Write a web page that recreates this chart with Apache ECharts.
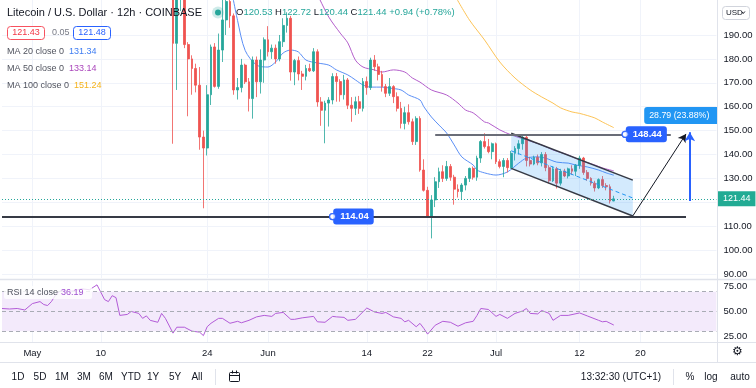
<!DOCTYPE html>
<html>
<head>
<meta charset="utf-8">
<script src="https://cdn.jsdelivr.net/npm/echarts@6/dist/echarts.min.js"></script>
<style>
html,body{margin:0;padding:0;background:#ffffff;}
#chart{width:756px;height:388px;}
</style>
</head>
<body>
<div id="chart"></div>
<script>
// ---------------- data ----------------
// 12h bars starting 27 Apr 2021 00:00 UTC
const firstBarUTC = Date.UTC(2021, 3, 27, 0);
const barCount = 189;

const tickDates  = ['05-01 00','05-10 00','05-24 00','06-01 00','06-14 00','06-22 00','07-01 00','07-12 00','07-20 00'];
const tickLabels = ['May','10','24','Jun','14','22','Jul','12','20'];
const priceTicks = [90,100,110,120,130,140,150,160,170,180,190];
const rsiTicks   = [25,50,75];

const firstCandle = '05-19 12';
// [open, high, low, close]
const candles = [
[212,222,144.5,186.5],[186.5,212,167,206],[206,224,200,218],[218,220,184.5,186],[186,187,156,180],
[180,181.5,165,176],[176,178,166,169],[169,176.6,142,147.3],[147.3,150,117.5,142.7],[142.7,169,139.6,165],
[165,186,160.7,185],[185,186.6,168,168.5],[168.5,190.6,167.5,183.7],[183.7,206,178.7,196.3],[196.3,210,190,204],
[204,208,193,198],[198,199,165,167],[167,172,163,168],[168,180,166,177.4],[177.4,178,169.5,170.4],
[170.4,172,158,163.4],[163.4,181,155,179.5],[179.5,181,164,170.4],[170.4,184,165.5,179.5],[179.5,189,170,188],
[188,193.7,181,183],[183,186,180,184.5],[184.5,186,178,180],[180,190,179,187.2],[187.2,197,185,194],
[194,199.5,191,197],[197,198,170.9,174.5],[174.5,180,169,179.3],[179.3,181,171,173.7],[173.7,175,167,172.7],
[172.7,177.5,171,176],[176,178,174.5,175],[175,184.5,174.5,183],[183,184,160,162],[162,164,152,158.5],
[158.5,162.5,144.7,161.5],[161.5,164,151.7,162.8],[162.8,174,161,172.6],[172.6,174.1,162.1,170.5],[170.5,171.5,162.1,165],
[165,173.3,163,171.2],[171.2,172,159,160.6],[160.6,164,153.7,159.3],[159.3,164.2,156.5,162.1],[162.1,164.5,157,159.3],
[159.3,172,158,170.5],[170.5,172.6,165,168],[168,180.5,167,179.5],[179.5,181.6,175,176.7],[176.7,178,171,173.5],
[173.5,175,166.3,168.4],[168.4,169.5,164,165.6],[165.6,172,164.5,168.4],[168.4,169,161.5,164.2],[164.2,166,158,159.3],
[159.3,162,150.9,153],[153,160,150.5,157.5],[157.5,161,152.5,153.7],[153.7,155,144,145.4],[145.4,156,144,155.1],
[155.1,156,132.8,133.5],[133.5,138,124.5,125],[125,126.5,113.8,114.2],[114.2,123,104.9,121],[121,130.5,118,128.6],
[128.6,134.5,126,132.8],[132.8,135.5,128.5,130],[130,137.3,129,135],[135,136,129,130.5],[130.5,131.5,119,125.5],
[125.5,127.5,122,124.5],[124.5,128,121,127.2],[127.2,131,125,130],[130,134.5,128.5,134.2],[134.2,135,129.5,130.5],
[130.5,139.5,129,138.5],[138.5,146,136.5,145.4],[145.4,148.9,142.5,143.3],[143.3,146.5,140.5,141.2],[141.2,145,138,144.5],
[144.5,145,136,137],[137,138,134.2,135],[135,138.5,130.5,137.5],[137.5,138.5,132.5,134.5],[134.5,141.5,134,140.5],
[140.5,143.5,137.5,142.5],[142.5,146,140,144.5],[144.5,148.5,142,147.2],[147.2,148,135,137.5],[137.5,139,135,136],
[136,139.5,135.5,138.8],[138.8,140,135.5,136.5],[136.5,141,135,140],[140,141,133,134.5],[134.5,135.5,127.9,129],
[129,135,128.5,134],[134,134.8,125.8,128],[128,134,127,133],[133,134,130.5,131],[131,134.5,130,134],
[134,135.5,131.5,133],[133,136,131,135.5],[135.5,139.5,134,138.5],[138.5,139,131.5,132.5],[132.5,133.5,129,130],
[130,130.5,127,128],[128,129,124.5,126],[126,130,125.5,129.5],[129.5,131,126,127],[127,128,125,126.5],
[126.5,127.5,119.5,120.5],[120.53,122.72,120.44,121.44]
];

const ma20 = [['05-27 00',212],['05-28 00',196],['05-29 00',183.5],['05-30 12',177.4],['06-01 00',176.6],['06-02 00',178.7],
['06-03 00',182.5],['06-04 00',183.7],['06-05 00',182.9],['06-06 00',179.5],['06-07 12',178.3],['06-09 00',177.4],
['06-10 00',175.4],['06-11 12',173.3],['06-12 12',171.2],['06-13 12',169.1],['06-14 12',168.2],['06-16 00',168.2],
['06-17 00',167.8],['06-18 12',167],['06-19 12',164.9],['06-21 00',162.8],['06-21 12',160],['06-22 12',155.7],
['06-23 12',152.3],['06-24 12',149],['06-25 12',144],['06-26 12',139],['06-28 00',135.6],['06-28 12',133.5],
['06-29 12',132.3],['07-01 00',131.4],['07-02 12',132.7],['07-04 00',136.4],['07-05 00',138.5],['07-06 12',139],
['07-07 12',138.5],['07-09 00',136.8],['07-10 12',136.4],['07-11 12',135.6],['07-13 00',134.8],['07-14 12',133.5],
['07-15 12',132.3],['07-16 12',131.34]];

const ma50 = [['06-07 12',207],['06-09 00',197.5],['06-10 12',190.8],['06-11 12',186.7],['06-12 12',179.5],['06-13 12',176.6],
['06-15 00',175.4],['06-16 00',174.5],['06-17 12',175.4],['06-19 00',174.5],['06-20 00',172],['06-21 00',170.3],
['06-22 12',167],['06-24 12',164.9],['06-26 00',161.5],['06-27 00',158.6],['06-28 00',157.4],['06-29 12',153.6],
['06-30 00',153.2],['07-01 12',150.3],['07-03 00',148.2],['07-05 00',146.1],['07-07 00',144],['07-08 12',141.9],
['07-10 12',139.8],['07-12 00',137.7],['07-14 00',135.6],['07-15 00',134.4],['07-16 12',133.14]];

const ma100 = [['06-25 12',207],['06-27 12',196.3],['06-29 12',187.9],['07-01 12',178.7],['07-03 12',172],['07-05 12',167],
['07-07 00',164.1],['07-08 12',161.5],['07-09 12',159.5],['07-11 00',157.8],['07-12 00',157.2],['07-14 00',155.3],
['07-15 00',153.6],['07-16 12',151.24]];

const rsi14 = [['04-27 00',53],['04-28 00',52.5],['04-29 00',53],['04-30 00',51.5],['05-01 00',58],['05-02 00',60],
['05-02 12',57],['05-03 00',56],['05-03 12',60],['05-04 00',66],['05-04 12',70],['05-05 00',72],['05-05 12',70],
['05-06 12',71],['05-07 12',73],['05-08 12',72],['05-09 12',77],['05-10 12',62],['05-11 00',60],['05-11 12',66],
['05-12 00',64],['05-12 12',46],['05-13 12',47],['05-14 00',50],['05-15 00',48],['05-15 12',43],['05-16 00',45.5],
['05-16 12',41],['05-17 12',39],['05-18 00',48],['05-18 12',43],['05-19 12',28],['05-20 00',34],['05-21 00',34],
['05-22 00',30],['05-23 00',29],['05-23 12',25.5],['05-24 00',34.5],['05-24 12',38],['05-25 12',43],['05-26 00',43],
['05-27 00',38],['05-28 00',40],['05-28 12',38.5],['05-29 12',41],['05-30 12',44.5],['05-31 12',46],['06-01 12',45],
['06-02 00',48],['06-03 00',49],['06-04 00',42],['06-04 12',42],['06-05 12',43.5],['06-07 00',45],['06-07 12',39.5],
['06-08 12',39],['06-09 12',45],['06-10 00',44.5],['06-11 00',44],['06-11 12',41],['06-12 12',42],['06-14 00',53.5],
['06-15 00',49.5],['06-16 00',48],['06-16 12',49],['06-17 12',44.5],['06-18 12',43],['06-19 00',39.5],['06-19 12',41],
['06-20 12',34.5],['06-21 00',37.9],['06-21 12',32.8],['06-22 00',27],['06-23 00',36],['06-23 12',38],['06-24 00',40],
['06-25 00',39],['06-26 00',35],['06-27 00',38.5],['06-28 00',40],['06-28 12',46],['06-29 00',53],['06-30 00',52],
['07-01 00',45],['07-01 12',47],['07-02 12',43],['07-03 12',48],['07-04 12',50.5],['07-05 00',53],['07-05 12',48],
['07-06 12',47.5],['07-07 00',51],['07-08 00',48],['07-08 12',41],['07-09 12',46],['07-10 12',46],['07-12 00',48.5],
['07-13 00',45.5],['07-13 12',44],['07-14 12',41],['07-15 00',39.5],['07-15 12',40],['07-16 12',36.19]];

const lastPrice = 121.44;
const supportLevel = 114.04;
const resistanceLevel = 148.44;
const supportSpan = ['04-27 00','07-26 00'];
const resistanceSpan = ['06-23 00','07-24 00'];
const channelTop = [['07-03 00',148.9],['07-19 00',129.3]];
const channelBottom = [['07-03 00',134.2],['07-19 00',114.3]];
const projection = [['07-19 00',114.3],['07-26 00',148.6]];
const measure = [['07-26 12',120.56],['07-26 12',149.35]];
const supportTag = ['06-09 12', supportLevel, '114.04'];
const resistanceTag = ['07-18 00', resistanceLevel, '148.44'];
const measureTag = ['07-20 12', 156.3, '28.79 (23.88%) 2879'];

// ---------------- build ----------------
const pad = n => String(n).padStart(2, '0');
const categories = [];
for (let i = 0; i < barCount; i++) {
  const d = new Date(firstBarUTC + i * 12 * 3600 * 1000);
  categories.push(pad(d.getUTCMonth() + 1) + '-' + pad(d.getUTCDate()) + ' ' + pad(d.getUTCHours()));
}
const ix = d => categories.indexOf(d);
const startIdx = ix(firstCandle);
const candleData = candles.map((c, k) => [startIdx + k, c[0], c[3], c[2], c[1]]);
const pts = arr => arr.map(p => [ix(p[0]), p[1]]);

const FF = '"Liberation Sans", Arial, sans-serif';
const font = (s, w) => (w ? w + ' ' : '') + s + 'px ' + FF;
const isTick = (i, v) => tickDates.indexOf(v) >= 0;

function T(x, y, text, fill, size, align, weight) {
  return { type: 'text', x: x, y: y, z: 100, silent: true,
    style: { text: text, fill: fill, font: font(size, weight), align: align || 'left', textAlign: align || 'left',
      verticalAlign: 'middle', textVerticalAlign: 'middle' } };
}
function L(x1, y1, x2, y2, c, w) {
  return { type: 'line', z: 100, silent: true, shape: { x1, y1, x2, y2 }, style: { stroke: c, lineWidth: w || 1 } };
}
function R(x, y, w, h, stroke, fill, r) {
  return { type: 'rect', z: 100, silent: true, shape: { x, y, width: w, height: h, r: r || 0 },
    style: { stroke: stroke, fill: fill, lineWidth: 1 } };
}

const graphics = [
  // separators
  L(0, 279.5, 756, 279.5, '#e0e3eb', 1.5),
  L(0, 342.5, 756, 342.5, '#e0e3eb', 1),
  L(0, 362.5, 756, 362.5, '#e0e3eb', 1),
  L(717.5, 0, 717.5, 362, '#e0e3eb', 1),
  // legend
  T(7, 12.5, 'Litecoin / U.S. Dollar · 12h · COINBASE', '#131722', 11),
  { type: 'circle', z: 100, silent: true, shape: { cx: 218, cy: 12.5, r: 6 }, style: { fill: 'rgba(38,166,154,0.22)' } },
  { type: 'circle', z: 101, silent: true, shape: { cx: 218, cy: 12.5, r: 3 }, style: { fill: '#26a69a' } },
  R(7.5, 26.5, 37, 13, '#f7525f', '#ffffff', 3),
  T(26, 33, '121.43', '#f23645', 9, 'center'),
  T(52, 33, '0.05', '#787b86', 9),
  R(73.5, 26.5, 37, 13, '#2962ff', '#ffffff', 3),
  T(92, 33, '121.48', '#2962ff', 9, 'center'),
  T(7, 52, 'MA 20 close 0', '#50535e', 9), T(69, 52, '131.34', '#3f7df2', 9),
  T(7, 69, 'MA 50 close 0', '#50535e', 9), T(69, 69, '133.14', '#ab47bc', 9),
  T(7, 86, 'MA 100 close 0', '#50535e', 9), T(74, 86, '151.24', '#f5b21a', 9),
  // RSI legend
  R(4, 286, 88, 13, null, 'rgba(255,255,255,0.8)', 2),
  T(7, 292.5, 'RSI 14 close', '#50535e', 9), T(61, 292.5, '36.19', '#a050d0', 9),
  // USD button
  R(722.5, 6.5, 27, 13, '#d1d4dc', '#ffffff', 3),
  T(726, 13, 'USD', '#131722', 8),
  { type: 'polyline', z: 100, silent: true, shape: { points: [[741.5, 11.5], [743.2, 13.5], [744.9, 11.5]] },
    style: { stroke: '#131722', lineWidth: 1, fill: null } },
  // gear
  T(737, 352, '⚙', '#131722', 12, 'center'),
  // bottom toolbar
  T(18, 377, '1D', '#131722', 10, 'center'), T(40, 377, '5D', '#131722', 10, 'center'),
  T(62, 377, '1M', '#131722', 10, 'center'), T(84, 377, '3M', '#131722', 10, 'center'),
  T(106, 377, '6M', '#131722', 10, 'center'), T(131, 377, 'YTD', '#131722', 10, 'center'),
  T(153, 377, '1Y', '#131722', 10, 'center'), T(175, 377, '5Y', '#131722', 10, 'center'),
  T(197, 377, 'All', '#131722', 10, 'center'),
  L(215.5, 369, 215.5, 385, '#e0e3eb', 1),
  R(229.5, 372.5, 10, 9, '#131722', null, 1),
  L(229.5, 375.5, 239.5, 375.5, '#131722', 1),
  L(232.5, 370.5, 232.5, 373.5, '#131722', 1), L(236.5, 370.5, 236.5, 373.5, '#131722', 1),
  T(621, 377, '13:32:30 (UTC+1)', '#131722', 10, 'center'),
  L(673.5, 369, 673.5, 385, '#e0e3eb', 1),
  T(690, 377, '%', '#131722', 10, 'center'),
  T(711, 377, 'log', '#131722', 10, 'center'),
  T(740, 377, 'auto', '#131722', 10, 'center')
];

const tagLabel = (bg, txt, extra) => Object.assign({
  show: true, position: 'right', distance: -3, formatter: txt, backgroundColor: bg, color: '#ffffff',
  fontFamily: FF, fontSize: 9.5, fontWeight: 'bold', padding: [3, 5, 3, 7], borderRadius: 3
}, extra || {});

const ohlcRich = {
  k: { color: '#131722', fontSize: 9.5, fontFamily: FF },
  v: { color: '#26a69a', fontSize: 9.5, fontFamily: FF }
};

const option = {
  animation: false,
  backgroundColor: '#ffffff',
  textStyle: { fontFamily: FF },
  title: {
    left: 236, top: 7, padding: 0, itemGap: 0,
    text: '{k|O}{v|120.53 }{k|H}{v|122.72 }{k|L}{v|120.44 }{k|C}{v|121.44 }{v|+0.94 (+0.78%)}',
    textStyle: { fontSize: 9.5, fontWeight: 'normal', fontFamily: FF, rich: ohlcRich }
  },
  grid: [
    { left: 2, right: 39.6, top: 0, height: 278, outerBoundsMode: 'none' },
    { left: 2, right: 39.6, top: 281, height: 61, outerBoundsMode: 'none' }
  ],
  xAxis: [
    { type: 'category', gridIndex: 0, data: categories, boundaryGap: false,
      axisLine: { show: false }, axisTick: { show: false }, axisLabel: { show: false },
      splitLine: { show: true, interval: isTick, lineStyle: { color: '#f0f3fa', width: 1 } } },
    { type: 'category', gridIndex: 1, data: categories, boundaryGap: false,
      axisLine: { show: false }, axisTick: { show: false },
      axisLabel: { show: true, interval: isTick, formatter: v => tickLabels[tickDates.indexOf(v)] || '',
        color: '#131722', fontSize: 9.5, margin: 6, fontFamily: FF },
      splitLine: { show: true, interval: isTick, lineStyle: { color: '#f0f3fa', width: 1 } } }
  ],
  yAxis: [
    { type: 'value', gridIndex: 0, position: 'right', min: 88.33, max: 204.64,
      axisLine: { show: false }, axisTick: { show: false, customValues: priceTicks },
      axisLabel: { customValues: priceTicks, formatter: v => v.toFixed(2), color: '#131722', fontSize: 9.5, margin: 7, fontFamily: FF },
      splitLine: { show: true, lineStyle: { color: '#f0f3fa', width: 1 } } },
    { type: 'value', gridIndex: 1, position: 'right', min: 19, max: 80.9,
      axisLine: { show: false }, axisTick: { show: false, customValues: rsiTicks },
      axisLabel: { customValues: rsiTicks, formatter: v => v.toFixed(2), color: '#131722', fontSize: 9.5, margin: 7, fontFamily: FF },
      splitLine: { show: false } }
  ],
  series: [
    { type: 'line', name: 'MA 20', xAxisIndex: 0, yAxisIndex: 0, data: pts(ma20), showSymbol: false, smooth: 0.3,
      lineStyle: { color: '#5b8ff5', width: 1 }, z: 2, silent: true },
    { type: 'line', name: 'MA 50', xAxisIndex: 0, yAxisIndex: 0, data: pts(ma50), showSymbol: false, smooth: 0.3,
      lineStyle: { color: '#b35ecb', width: 1 }, z: 2, silent: true },
    { type: 'line', name: 'MA 100', xAxisIndex: 0, yAxisIndex: 0, data: pts(ma100), showSymbol: false, smooth: 0.3,
      lineStyle: { color: '#fcc356', width: 1 }, z: 2, silent: true },
    { type: 'candlestick', name: 'LTCUSD', xAxisIndex: 0, yAxisIndex: 0, data: candleData,
      encode: { x: 0, y: [1, 2, 3, 4] }, barWidth: 2.4, z: 3, silent: true,
      itemStyle: { color: '#26a69a', color0: '#ef5350', borderColor: 'rgba(38,166,154,0.8)', borderColor0: 'rgba(239,83,80,0.8)', borderWidth: 1 },
      markLine: { silent: true, symbol: ['none', 'none'], animation: false,
        data: [{ yAxis: lastPrice,
          lineStyle: { color: '#26a69a', type: [1, 2], width: 1 },
          label: { show: true, position: 'end', distance: 1.5, formatter: lastPrice.toFixed(2), backgroundColor: '#22ab94',
            color: '#ffffff', fontSize: 9, fontFamily: FF, padding: [3, 5] } }] } },
    { type: 'custom', name: 'drawings', xAxisIndex: 0, yAxisIndex: 0, z: 4, silent: true,
      data: [[ix(channelTop[0][0]), channelTop[0][1]]],
      renderItem: function (params, api) {
        const P = q => api.coord([ix(q[0]), q[1]]);
        const tl = P(channelTop[0]), tr = P(channelTop[1]), bl = P(channelBottom[0]), br = P(channelBottom[1]);
        const ml = [(tl[0] + bl[0]) / 2, (tl[1] + bl[1]) / 2], mr = [(tr[0] + br[0]) / 2, (tr[1] + br[1]) / 2];
        return { type: 'group', children: [
          { type: 'polygon', shape: { points: [tl, tr, br, bl] }, style: { fill: 'rgba(33,150,243,0.2)' } },
          { type: 'line', shape: { x1: ml[0], y1: ml[1], x2: mr[0], y2: mr[1] }, style: { stroke: '#2196f3', lineWidth: 1, lineDash: [4, 3] } },
          { type: 'line', shape: { x1: tl[0], y1: tl[1], x2: tr[0], y2: tr[1] }, style: { stroke: '#363a45', lineWidth: 1.5 } },
          { type: 'line', shape: { x1: bl[0], y1: bl[1], x2: br[0], y2: br[1] }, style: { stroke: '#363a45', lineWidth: 1.5 } }
        ] };
      },
      markLine: { silent: true, symbol: ['none', 'none'], animation: false, label: { show: false },
        data: [
          [{ coord: [ix(supportSpan[0]), supportLevel], lineStyle: { color: '#363a45', width: 2, type: 'solid' } },
           { coord: [ix(supportSpan[1]), supportLevel] }],
          [{ coord: [ix(resistanceSpan[0]), resistanceLevel], lineStyle: { color: '#6a6d78', width: 2, type: 'solid' } },
           { coord: [ix(resistanceSpan[1]), resistanceLevel] }],
          [{ coord: [ix(projection[0][0]), projection[0][1]], lineStyle: { color: '#131722', width: 1, type: 'solid' } },
           { coord: [ix(projection[1][0]), projection[1][1]], symbol: 'arrow', symbolSize: [7, 8] }],
          [{ coord: [ix(measure[0][0]), measure[0][1]], lineStyle: { color: '#2962ff', width: 2, type: 'solid' } },
           { coord: [ix(measure[1][0]), measure[1][1]], symbol: 'arrow', symbolSize: [8, 9] }]
        ] },
      markPoint: { silent: true, animation: false, symbol: 'circle', symbolSize: 6,
        data: [
          { coord: [ix(supportTag[0]), supportTag[1]], itemStyle: { color: '#ffffff', borderColor: '#2962ff', borderWidth: 1.2 },
            label: tagLabel('#2962ff', supportTag[2]) },
          { coord: [ix(resistanceTag[0]), resistanceTag[1]], itemStyle: { color: '#ffffff', borderColor: '#2962ff', borderWidth: 1.2 },
            label: tagLabel('#2962ff', resistanceTag[2]) },
          { coord: [ix(measureTag[0]), measureTag[1]], symbolSize: 0,
            label: tagLabel('#2196f3', measureTag[2], { distance: 0, fontWeight: 'normal', fontSize: 8.8, padding: [4, 3, 4, 5],
              width: 65, overflow: 'truncate', ellipsis: '', borderRadius: [3, 0, 0, 3] }) }
        ] } },
    { type: 'scatter', name: 'handles', xAxisIndex: 0, yAxisIndex: 0, z: 6, silent: true, symbolSize: 6,
      data: [[ix(supportTag[0]), supportTag[1]], [ix(resistanceTag[0]), resistanceTag[1]]],
      itemStyle: { color: '#ffffff', borderColor: '#2962ff', borderWidth: 1.2 } },
    { type: 'line', name: 'RSI', xAxisIndex: 1, yAxisIndex: 1, data: pts(rsi14), showSymbol: false, silent: true,
      lineStyle: { color: '#b35cd8', width: 1 }, z: 3,
      markArea: { silent: true, itemStyle: { color: '#f3eafb' }, data: [[{ yAxis: 30 }, { yAxis: 70 }]] },
      markLine: { silent: true, symbol: ['none', 'none'], label: { show: false },
        lineStyle: { color: '#a9acb5', type: [4, 3], width: 1 },
        data: [{ yAxis: 70 }, { yAxis: 50 }, { yAxis: 30 }] } }
  ],
  graphic: { elements: graphics }
};

const chart = echarts.init(document.getElementById('chart'), null, { renderer: 'canvas' });
chart.setOption(option);
</script>
</body>
</html>
